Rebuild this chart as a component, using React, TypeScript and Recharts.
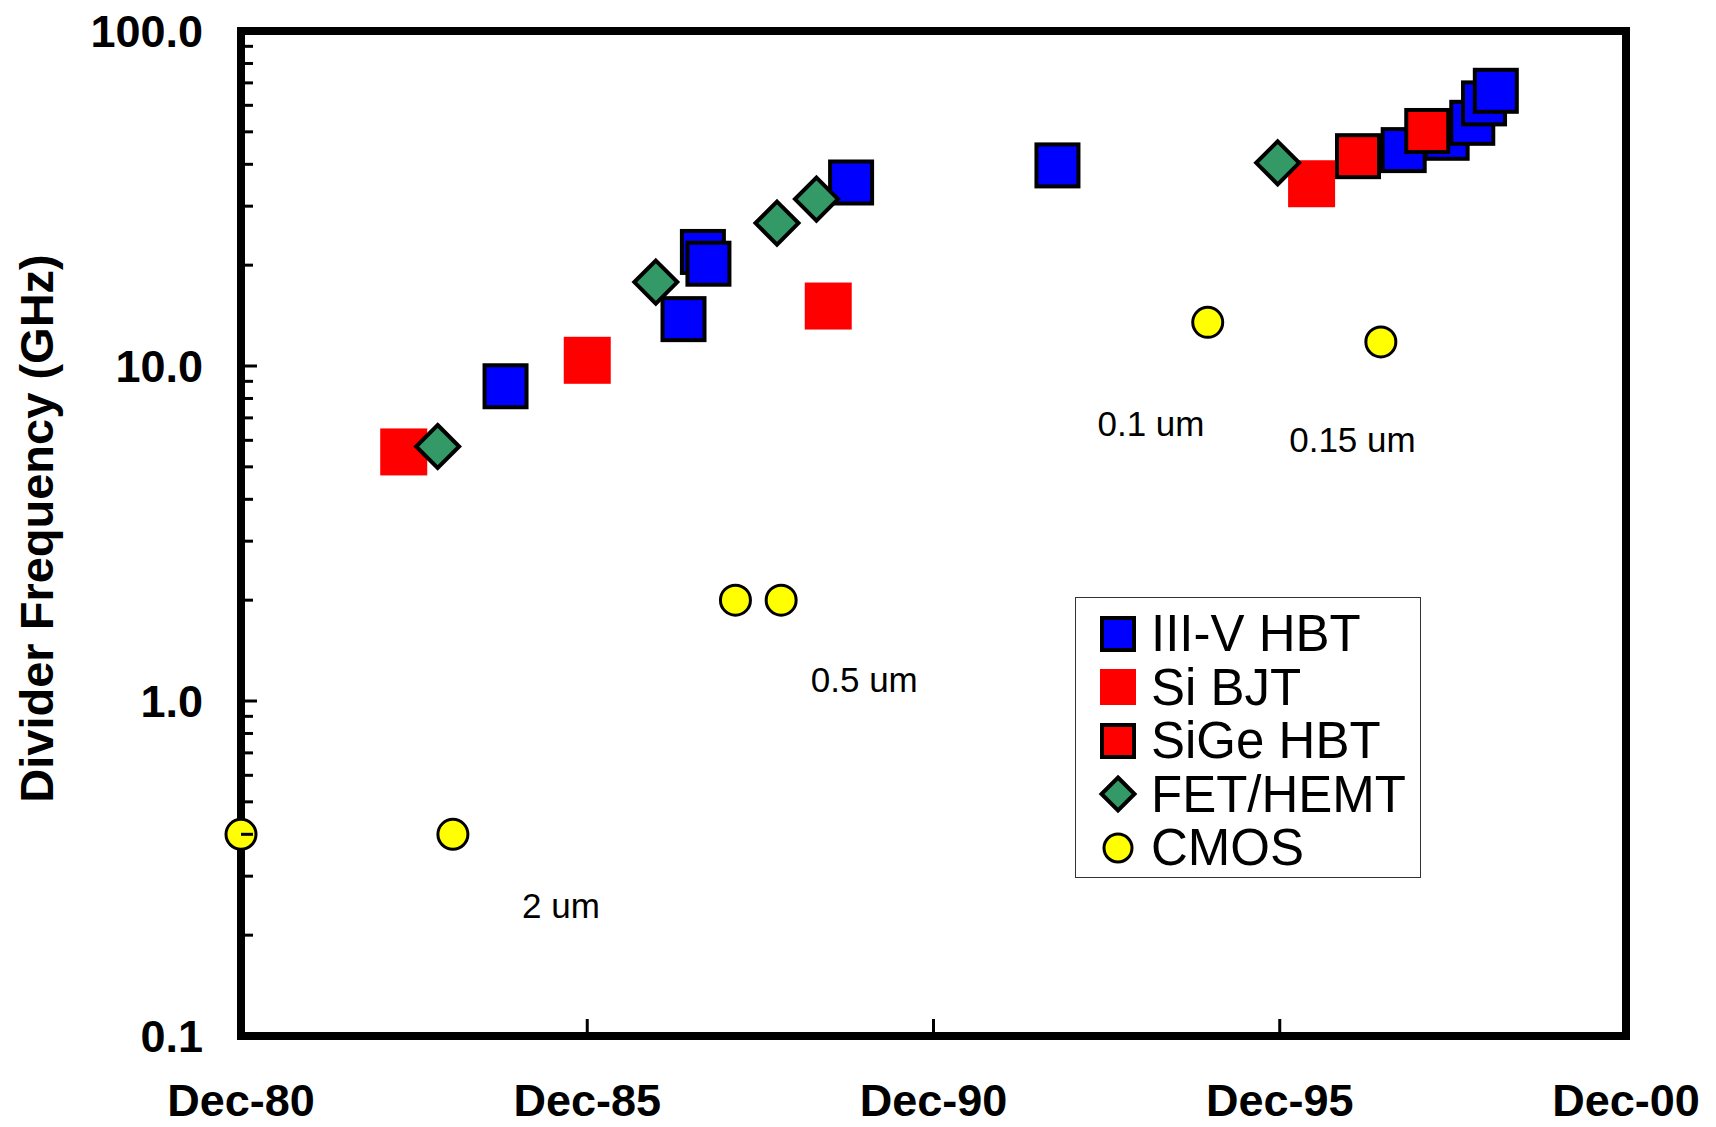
import { ScatterChart, Scatter, XAxis, YAxis, ReferenceArea, Legend } from "recharts";

document.body.style.margin = "0";

const FONT = "Arial, 'Liberation Sans', Helvetica, sans-serif";

// x = decimal year (Dec-80 = 1981.0), y = divider frequency in GHz
const III_V_HBT = [
  { x: 1984.82, y: 8.7 },
  { x: 1987.39, y: 13.8 },
  { x: 1987.67, y: 21.9 },
  { x: 1987.75, y: 20.2 },
  { x: 1989.81, y: 35.3 },
  { x: 1992.79, y: 39.7 },
  { x: 1997.79, y: 44.1 },
  { x: 1998.41, y: 48.0 },
  { x: 1998.78, y: 53.2 },
  { x: 1998.95, y: 60.8 },
  { x: 1999.12, y: 66.3 },
];

const SI_BJT = [
  { x: 1983.35, y: 5.54 },
  { x: 1986.0, y: 10.4 },
  { x: 1989.48, y: 15.1 },
  { x: 1996.46, y: 35.0 },
];

const SIGE_HBT = [
  { x: 1997.13, y: 42.3 },
  { x: 1998.13, y: 50.3 },
];

const FET_HEMT = [
  { x: 1983.84, y: 5.75 },
  { x: 1986.99, y: 17.8 },
  { x: 1988.74, y: 26.7 },
  { x: 1989.31, y: 31.5 },
  { x: 1995.97, y: 40.4 },
];

const CMOS = [
  { x: 1981.0, y: 0.4 },
  { x: 1984.06, y: 0.4 },
  { x: 1988.14, y: 2.0 },
  { x: 1988.8, y: 2.0 },
  { x: 1994.96, y: 13.5 },
  { x: 1997.46, y: 11.8 },
];

// process node notes next to the CMOS points
const NOTES = [
  { x: 1985.62, y: 0.246, text: "2 um" },
  { x: 1990.0, y: 1.16, text: "0.5 um" },
  { x: 1994.14, y: 6.74, text: "0.1 um" },
  { x: 1997.05, y: 6.02, text: "0.15 um" },
];

const X_TICKS = [1981, 1986, 1991, 1996, 2001];
const Y_MAJOR = [0.1, 1, 10, 100];
const Y_MINOR = [
  0.2, 0.3, 0.4, 0.5, 0.6, 0.7, 0.8, 0.9,
  2, 3, 4, 5, 6, 7, 8, 9,
  20, 30, 40, 50, 60, 70, 80, 90,
];

const Y_GAP = 38;

// marker shapes
const Square = (fill: string, border: boolean, size: number) => (p: any) => {
  const s = border ? size - 4 : size;
  return (
    <rect
      x={p.cx - s / 2}
      y={p.cy - s / 2}
      width={s}
      height={s}
      fill={fill}
      stroke={border ? "#000" : "none"}
      strokeWidth={border ? 4 : 0}
    />
  );
};

const Diamond = (size: number) => (p: any) => {
  const h = size / 2;
  return (
    <polygon
      points={`${p.cx},${p.cy - h} ${p.cx + h},${p.cy} ${p.cx},${p.cy + h} ${p.cx - h},${p.cy}`}
      fill="#339966"
      stroke="#000"
      strokeWidth={4}
    />
  );
};

const Dot = (r: number) => (p: any) => (
  <circle cx={p.cx} cy={p.cy} r={r} fill="#ffff00" stroke="#000" strokeWidth={3} />
);

const SERIES = [
  { name: "III-V HBT", data: III_V_HBT, shape: Square("#0000ff", true, 46), icon: Square("#0000ff", true, 36) },
  { name: "Si BJT", data: SI_BJT, shape: Square("#ff0000", false, 47), icon: Square("#ff0000", false, 36) },
  { name: "SiGe HBT", data: SIGE_HBT, shape: Square("#ff0000", true, 46), icon: Square("#ff0000", true, 36) },
  { name: "FET/HEMT", data: FET_HEMT, shape: Diamond(43), icon: Diamond(33) },
  { name: "CMOS", data: CMOS, shape: Dot(15), icon: Dot(14) },
];

// drawing order (later on top)
const DRAW_ORDER = ["III-V HBT", "SiGe HBT", "Si BJT", "FET/HEMT", "CMOS"];

const YTick = (props: any) => {
  const { x, y, payload } = props;
  const v = payload.value;
  const major = Y_MAJOR.includes(v);
  const ax = x + Y_GAP;
  return (
    <g>
      {v > 0.1 && v < 100 && (
        <line x1={ax} x2={ax + (major ? 16 : 12)} y1={y} y2={y} stroke="#000" strokeWidth={3} />
      )}
      {major && (
        <text x={x} y={y} dy="0.36em" textAnchor="end" fontFamily={FONT} fontWeight="bold" fontSize={45} fill="#000">
          {v.toFixed(1)}
        </text>
      )}
    </g>
  );
};

const XTick = (props: any) => {
  const { x, y, payload } = props;
  const v = payload.value;
  const yy = String((v - 1) % 100).padStart(2, "0");
  return (
    <g>
      {v > X_TICKS[0] && v < X_TICKS[X_TICKS.length - 1] && (
        <line x1={x} x2={x} y1={y} y2={y - 17} stroke="#000" strokeWidth={3} />
      )}
      <text x={x} y={y + 80} textAnchor="middle" fontFamily={FONT} fontWeight="bold" fontSize={45} fill="#000">
        {`Dec-${yy}`}
      </text>
    </g>
  );
};

const YLabel = (props: any) => {
  const vb = props.viewBox;
  const cx = vb.x + 36;
  const cy = vb.y + vb.height / 2 - 5;
  return (
    <text
      x={cx}
      y={cy}
      transform={`rotate(-90 ${cx} ${cy})`}
      textAnchor="middle"
      dominantBaseline="central"
      fontFamily={FONT}
      fontWeight="bold"
      fontSize={47}
      fill="#000"
    >
      Divider Frequency (GHz)
    </text>
  );
};

const NoteShape = (p: any) => (
  <text x={p.cx} y={p.cy} dy="0.36em" textAnchor="middle" fontFamily={FONT} fontSize={35} fill="#000">
    {p.payload.text}
  </text>
);

const LegendBox = () => (
  <div
    style={{
      width: 346,
      height: 281,
      boxSizing: "border-box",
      border: "1.5px solid #333",
      background: "#fff",
      paddingTop: 9,
      fontFamily: FONT,
    }}
  >
    {SERIES.map((s) => (
      <div key={s.name} style={{ display: "flex", alignItems: "center", height: 53.5 }}>
        <svg width={44} height={44} style={{ marginLeft: 20, flex: "none" }}>
          {s.icon({ cx: 22, cy: 22 })}
        </svg>
        <span style={{ marginLeft: 11, fontSize: 51, lineHeight: 1, color: "#000", whiteSpace: "nowrap" }}>
          {s.name}
        </span>
      </div>
    ))}
  </div>
);

export default function App() {
  const ordered = DRAW_ORDER.map((n) => SERIES.find((s) => s.name === n)!);
  return (
    <div style={{ background: "#fff", width: 1716, height: 1127 }}>
      <ScatterChart width={1716} height={1127} margin={{ top: 31, right: 90, bottom: 0, left: 0 }}>
        <XAxis
          type="number"
          dataKey="x"
          domain={[1981, 2001]}
          ticks={X_TICKS}
          interval={0}
          axisLine={false}
          tickLine={false}
          tickSize={0}
          tickMargin={0}
          height={91}
          tick={<XTick />}
        />
        <YAxis
          type="number"
          dataKey="y"
          scale="log"
          domain={[0.1, 100]}
          ticks={[...Y_MAJOR, ...Y_MINOR]}
          interval={0}
          axisLine={false}
          tickLine={false}
          tickSize={0}
          tickMargin={Y_GAP}
          width={241}
          tick={<YTick />}
          label={<YLabel />}
        />
        <ReferenceArea x1={1981} x2={2001} y1={0.1} y2={100} fill="none" stroke="#000" strokeWidth={8} fillOpacity={0} />
        {ordered.map((s, i) => (
          <Scatter
            key={s.name}
            name={s.name}
            data={s.data}
            shape={s.shape}
            zIndex={1000 + i}
            isAnimationActive={false}
          />
        ))}
        <Scatter data={NOTES} shape={NoteShape} legendType="none" isAnimationActive={false} />
        <Legend
          layout="vertical"
          align="center"
          verticalAlign="middle"
          content={() => <LegendBox />}
          wrapperStyle={{ left: 1075, top: 597, width: 346, height: 281 }}
        />
      </ScatterChart>
    </div>
  );
}
